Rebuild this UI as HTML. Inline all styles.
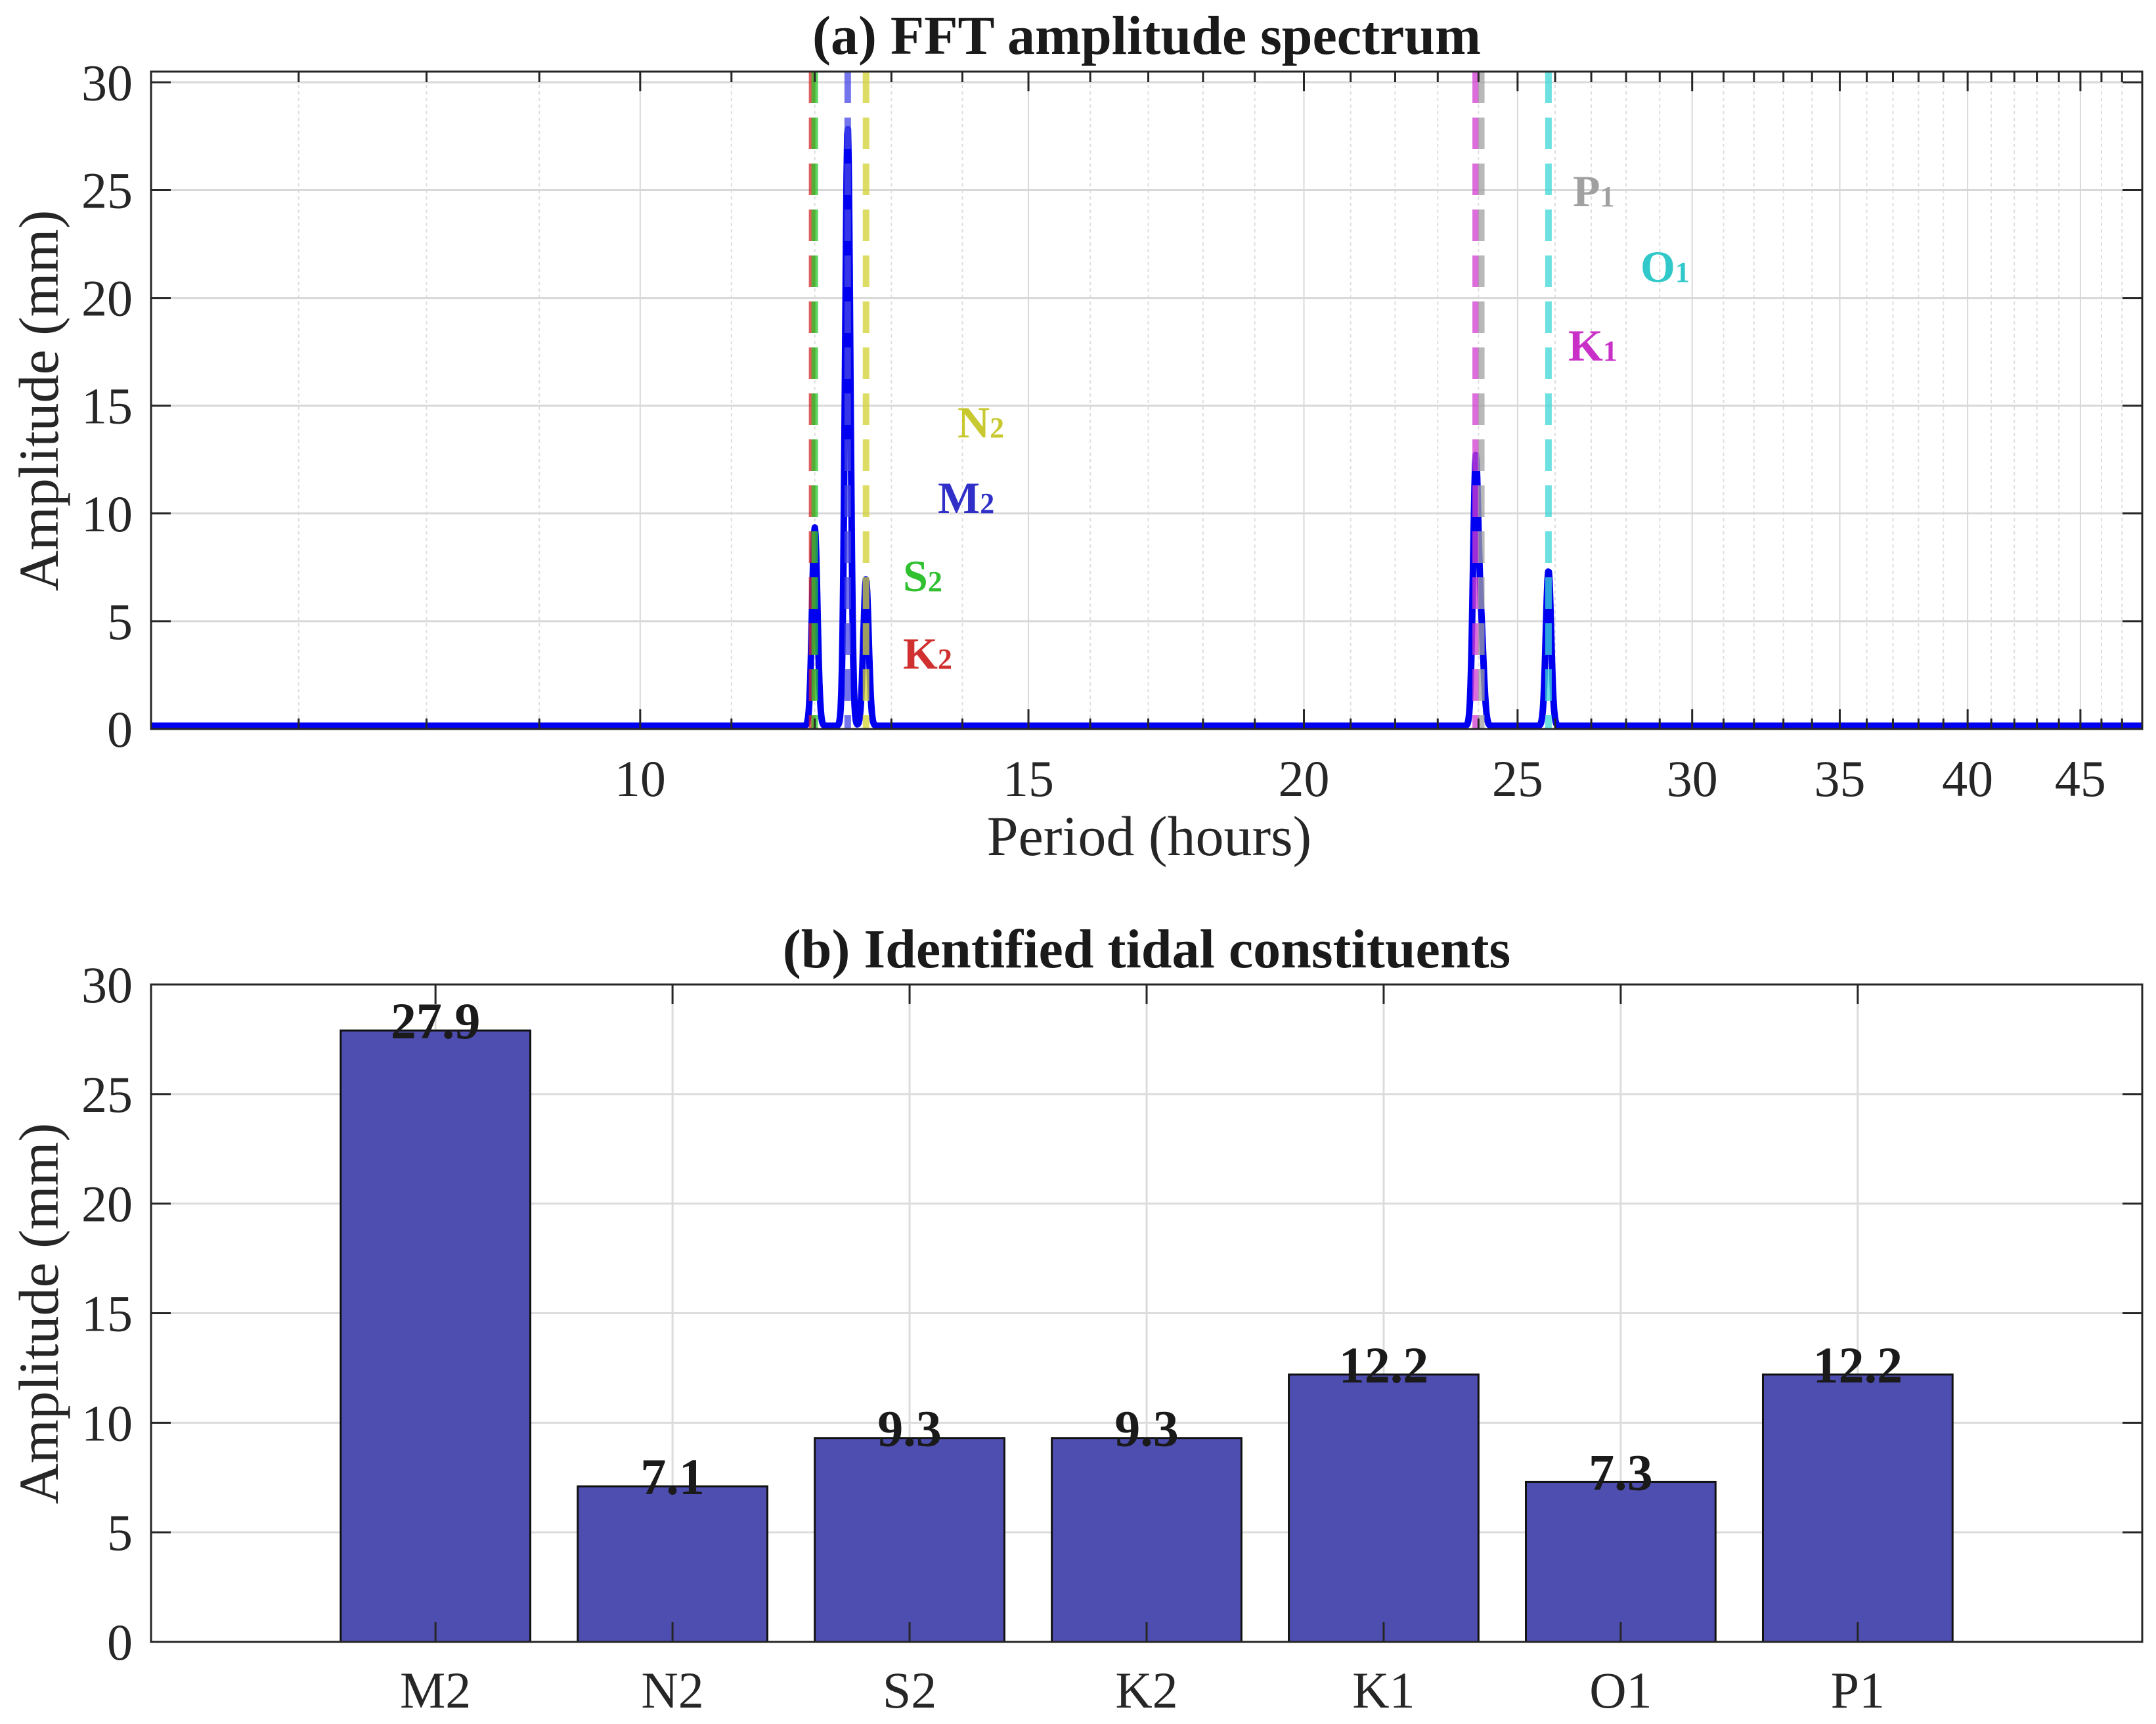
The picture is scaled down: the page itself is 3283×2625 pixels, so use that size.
<!DOCTYPE html>
<html><head><meta charset="utf-8"><style>
html,body{margin:0;padding:0;background:#fff;}
svg{display:block;font-family:"Liberation Serif",serif;}
</style></head><body>
<svg id="fig" width="3283" height="2625" viewBox="0 0 3283 2625" xmlns="http://www.w3.org/2000/svg">
<rect width="3283" height="2625" fill="#fff"/>
<g id="topPanel"></g>
<g id="botPanel"></g>
</svg>
<script>
// ---- Panel (a) data ----
const xTickVals = [10, 15, 20, 25, 30, 35, 40, 45];
const yTickVals = [0, 5, 10, 15, 20, 25, 30];
const peakPeriods = [11.97, 12.0, 12.42, 12.66, 23.93, 24.07, 25.82];
const peakAmps = [0.0, 9.2, 27.8, 6.8, 12.1, 4.0, 7.2];
const lineNames = ["K2", "S2", "M2", "N2", "K1", "P1", "O1"];
const linePeriods = [11.967, 12.0, 12.42, 12.66, 23.93, 24.07, 25.82];
const lineColors = ["rgba(214,40,40,0.75)", "rgba(40,200,40,0.75)", "rgba(70,70,230,0.75)", "rgba(210,210,50,0.75)", "rgba(210,60,210,0.75)", "rgba(160,160,160,0.75)", "rgba(60,215,215,0.75)"];
const labelText = ["K", "S", "M", "N", "K", "P", "O"];
const labelSub = ["2", "2", "2", "2", "1", "1", "1"];
const labelColors = ["#d03030", "#30c030", "#3030c8", "#c8c830", "#c830c8", "#a0a0a0", "#30c8c8"];
const labelX = [1375, 1375, 1428, 1458, 2388, 2395, 2498];
const labelY = [1018, 900, 781, 666, 549, 314, 429];
// ---- Panel (b) data ----
const categories = ["M2", "N2", "S2", "K2", "K1", "O1", "P1"];
const amplitudes = [27.9, 7.1, 9.3, 9.3, 12.2, 7.3, 12.2];
const valueLabels = ["27.9", "7.1", "9.3", "9.3", "12.2", "7.3", "12.2"];

const NS = "http://www.w3.org/2000/svg";
function mk(parent, tag, attrs, text) {
  const e = document.createElementNS(NS, tag);
  for (const k in attrs) e.setAttribute(k, attrs[k]);
  if (text !== undefined) e.textContent = text;
  parent.appendChild(e);
  return e;
}
const A = {l: 230, r: 3262, t: 109, b: 1110, xmin: 6, xmax: 48, ymax: 30.5};
const xa = p => A.l + (Math.log10(p) - Math.log10(A.xmin)) / (Math.log10(A.xmax) - Math.log10(A.xmin)) * (A.r - A.l);
const ya = v => A.b - v / A.ymax * (A.b - A.t);
const panelA = document.getElementById('topPanel');
for (let p = 7; p <= 48; p++) {
  const major = p % 5 === 0;
  const g = mk(panelA, 'line', {x1: xa(p), x2: xa(p), y1: A.t, y2: A.b, stroke: major ? '#d8d8d8' : '#dedede', 'stroke-width': 2, 'stroke-dasharray': major ? 'none' : '5 5'});
  
  
}
yTickVals.forEach(v => {
  const g = mk(panelA, 'line', {x1: A.l, x2: A.r, y1: ya(v), y2: ya(v), stroke: '#d8d8d8', 'stroke-width': 3});
  
  
});
let pts = [];
const sig = 0.0012;
for (let i = 0; i <= 3000; i++) {
  const lp = Math.log10(A.xmin) + i / 3000 * (Math.log10(A.xmax) - Math.log10(A.xmin));
  let v = 0.15;
  for (let j = 0; j < peakPeriods.length; j++) {
    const d = lp - Math.log10(peakPeriods[j]);
    v += peakAmps[j] * Math.exp(-d * d / (2 * sig * sig));
  }
  pts.push(xa(Math.pow(10, lp)).toFixed(1) + ',' + ya(Math.min(v, A.ymax)).toFixed(1));
}
const spec = mk(panelA, 'polyline', {points: pts.join(' '), fill: 'none', stroke: '#0000f0', 'stroke-width': 10, 'stroke-linejoin': 'round'});


linePeriods.forEach((p, i) => {
  const l = mk(panelA, 'line', {x1: xa(p), x2: xa(p), y1: A.t, y2: A.b, stroke: lineColors[i], 'stroke-width': 10, 'stroke-dasharray': '48 22'});
  
  
});
labelText.forEach((t, i) => {
  const tx = mk(panelA, 'text', {x: labelX[i], y: labelY[i], fill: labelColors[i], 'font-size': 68, 'font-weight': 'bold'});
  tx.textContent = t;
  mk(tx, 'tspan', {'font-size': 44}, labelSub[i]);
  
  
});
const boxA = mk(panelA, 'rect', {x: A.l, y: A.t, width: A.r - A.l, height: A.b - A.t, fill: 'none', stroke: '#262626', 'stroke-width': 3});


for (let p = 7; p <= 48; p++) {
  const len = p % 5 === 0 ? 30 : 16;
  mk(panelA, 'line', {x1: xa(p), x2: xa(p), y1: A.b, y2: A.b - len, stroke: '#262626', 'stroke-width': 3});
  mk(panelA, 'line', {x1: xa(p), x2: xa(p), y1: A.t, y2: A.t + len, stroke: '#262626', 'stroke-width': 3});
}
xTickVals.forEach(v => {
  const t = mk(panelA, 'text', {x: xa(v), y: 1212, 'text-anchor': 'middle', 'font-size': 78, fill: '#262626'}, String(v));
  
  
});
yTickVals.forEach(v => {
  mk(panelA, 'line', {x1: A.l, x2: A.l + 30, y1: ya(v), y2: ya(v), stroke: '#262626', 'stroke-width': 3});
  mk(panelA, 'line', {x1: A.r, x2: A.r - 30, y1: ya(v), y2: ya(v), stroke: '#262626', 'stroke-width': 3});
  const t = mk(panelA, 'text', {x: 202, y: ya(v) + 27, 'text-anchor': 'end', 'font-size': 78, fill: '#262626'}, String(v));
  
  
});
const ttlA = mk(panelA, 'text', {x: 1746, y: 82, 'text-anchor': 'middle', 'font-size': 84, 'font-weight': 'bold', fill: '#1a1a1a'}, '(a) FFT amplitude spectrum');


const xl = mk(panelA, 'text', {x: 1750, y: 1302, 'text-anchor': 'middle', 'font-size': 86, fill: '#262626'}, 'Period (hours)');


const ylA = mk(panelA, 'text', {x: 0, y: 0, transform: 'translate(88,610) rotate(-90)', 'text-anchor': 'middle', 'font-size': 86, fill: '#262626'}, 'Amplitude (mm)');



const B = {l: 230, r: 3262, t: 1499, b: 2500, xmin: -0.2, xmax: 8.2, ymax: 30};
const xb = c => B.l + (c - B.xmin) / (B.xmax - B.xmin) * (B.r - B.l);
const yb = v => B.b - v / B.ymax * (B.b - B.t);
const bw = 0.8 * (B.r - B.l) / (B.xmax - B.xmin);
const panelB = document.getElementById('botPanel');
categories.forEach((c, i) => {
  const g = mk(panelB, 'line', {x1: xb(i + 1), x2: xb(i + 1), y1: B.t, y2: B.b, stroke: '#dcdcdc', 'stroke-width': 3});
  
  
});
yTickVals.forEach(v => {
  const g = mk(panelB, 'line', {x1: B.l, x2: B.r, y1: yb(v), y2: yb(v), stroke: '#dcdcdc', 'stroke-width': 3});
  
  
});
amplitudes.forEach((v, i) => {
  const r = mk(panelB, 'rect', {x: xb(i + 1) - bw / 2, y: yb(v), width: bw, height: yb(0) - yb(v), fill: '#4e4eb0', stroke: '#111', 'stroke-width': 3});
  
  
  const t = mk(panelB, 'text', {x: xb(i + 1), y: yb(v) + 12, 'text-anchor': 'middle', 'font-size': 78, 'font-weight': 'bold', fill: '#1a1a1a'}, valueLabels[i]);
  
  
});
const boxB = mk(panelB, 'rect', {x: B.l, y: B.t, width: B.r - B.l, height: B.b - B.t, fill: 'none', stroke: '#262626', 'stroke-width': 3});


categories.forEach((c, i) => {
  mk(panelB, 'line', {x1: xb(i + 1), x2: xb(i + 1), y1: B.b, y2: B.b - 30, stroke: '#262626', 'stroke-width': 3});
  mk(panelB, 'line', {x1: xb(i + 1), x2: xb(i + 1), y1: B.t, y2: B.t + 30, stroke: '#262626', 'stroke-width': 3});
  const t = mk(panelB, 'text', {x: xb(i + 1), y: 2600, 'text-anchor': 'middle', 'font-size': 78, fill: '#262626'}, c);
  
  
});
yTickVals.forEach(v => {
  mk(panelB, 'line', {x1: B.l, x2: B.l + 30, y1: yb(v), y2: yb(v), stroke: '#262626', 'stroke-width': 3});
  mk(panelB, 'line', {x1: B.r, x2: B.r - 30, y1: yb(v), y2: yb(v), stroke: '#262626', 'stroke-width': 3});
  const t = mk(panelB, 'text', {x: 202, y: yb(v) + 27, 'text-anchor': 'end', 'font-size': 78, fill: '#262626'}, String(v));
  
  
});
const ttlB = mk(panelB, 'text', {x: 1746, y: 1473, 'text-anchor': 'middle', 'font-size': 84, 'font-weight': 'bold', fill: '#1a1a1a'}, '(b) Identified tidal constituents');


const ylB = mk(panelB, 'text', {x: 0, y: 0, transform: 'translate(88,2000) rotate(-90)', 'text-anchor': 'middle', 'font-size': 86, fill: '#262626'}, 'Amplitude (mm)');


</script>
</body></html>
